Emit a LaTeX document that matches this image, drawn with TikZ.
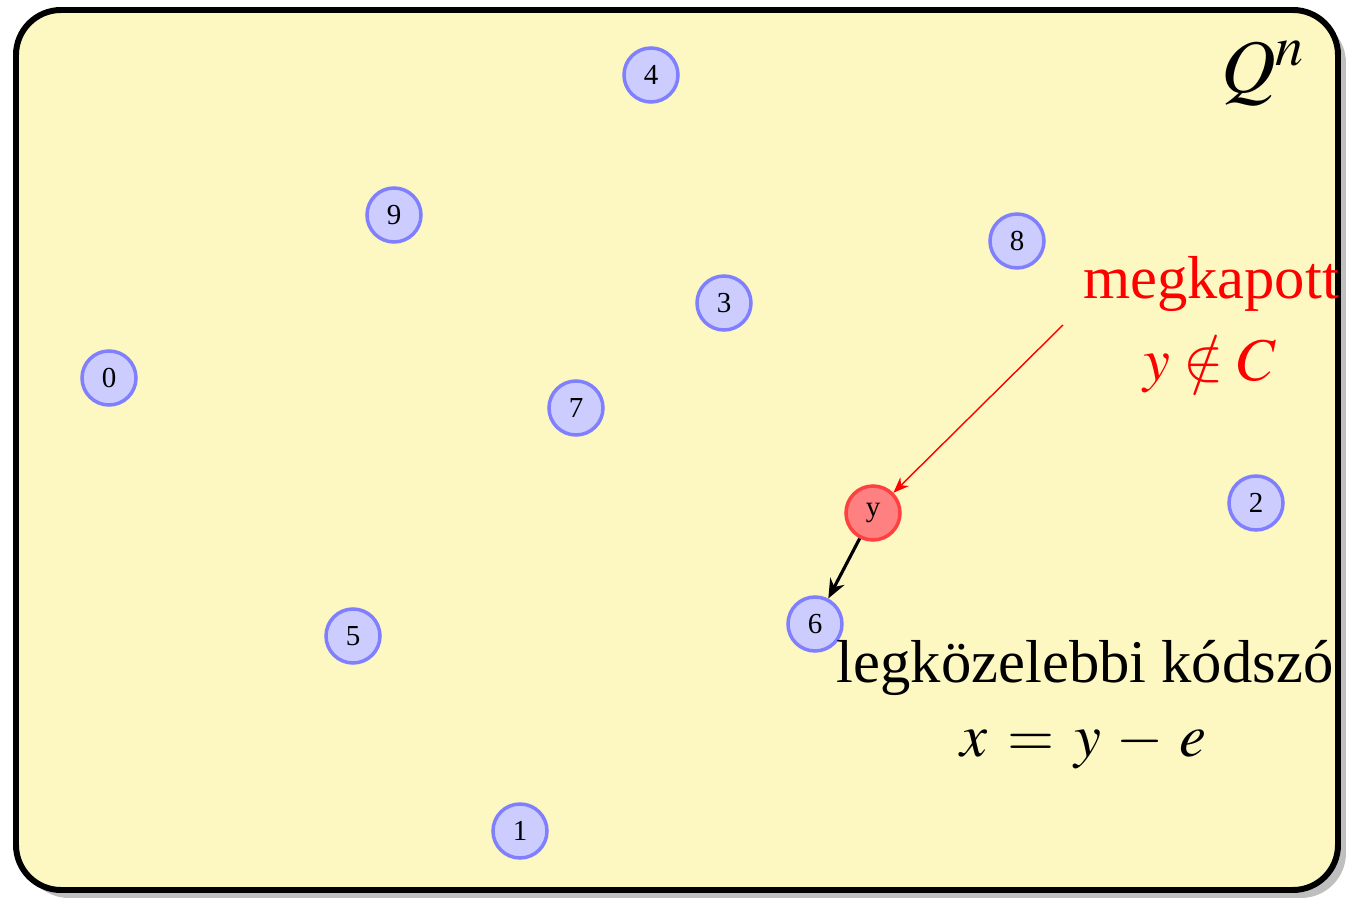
\documentclass[tikz,border=0pt]{standalone}
\usepackage{mathptmx}
\usepackage{fontspec}
\setmainfont{Liberation Serif}
\usetikzlibrary{positioning,shadows,arrows.meta}

\definecolor{paper}{RGB}{253,248,194}
\tikzset{
  word/.style={circle,draw=blue!50,fill=blue!20,line width=2pt,minimum size=1.08cm,inner sep=0pt,font=\fontsize{16.5}{18}\selectfont},
  received/.style={word,draw=red!75,fill=red!50},
  bigtext/.style={font=\fontsize{34.5}{41}\selectfont,inner sep=0pt,align=center}
}

\begin{document}
\begin{tikzpicture}
\useasboundingbox (0,0) rectangle (26.92,17.98);
\draw[line width=3.4pt,rounded corners=0.9cm,fill=paper,
  drop shadow={shadow xshift=0.16cm,shadow yshift=-0.16cm,fill=black!25,opacity=1}]
  (0.32,0.18) rectangle (26.76,17.78);
\node[bigtext,font=\fontsize{43}{48}\selectfont] (space) at (25.26,16.5) {$Q^n$};

\node[word] (c4) at (13.02,16.48) {4};
\node[word] (c9) at (7.88,13.68) {9};
\node[word] (c8) at (20.34,13.16) {8};
\node[word] (c3) at (14.48,11.92) {3};
\node[word] (c0) at (2.18,10.42) {0};
\node[word] (c7) at (11.52,9.82) {7};
\node[word] (c2) at (25.12,7.92) {2};
\node[word] (c5) at (7.06,5.26) {5};
\node[word] (c6) at (16.30,5.50) {6};
\node[word] (c1) at (10.40,1.36) {1};
\node[received] (y) at (17.46,7.72) {y};

% received word
\node[bigtext,red] (got) at (24.22,12.30) {megkapott};
\node[bigtext,red] (notin) at (24.20,10.70) {$y\notin C$};
\coordinate (gotfoot) at (21.26,11.48);
\draw[red,line width=0.8pt,-{Stealth[length=9pt,width=7pt]}] (gotfoot) -- (y);

% nearest codeword
\draw[line width=1.8pt,-{Stealth[length=11pt,width=9pt]}] (y) -- (c6);
\node[bigtext] (near) at (21.70,4.62) {legközelebbi kódszó};
\node[bigtext] (eq) at (21.66,3.08) {$x\,=\,y\,-\,e$};
\end{tikzpicture}
\end{document}
